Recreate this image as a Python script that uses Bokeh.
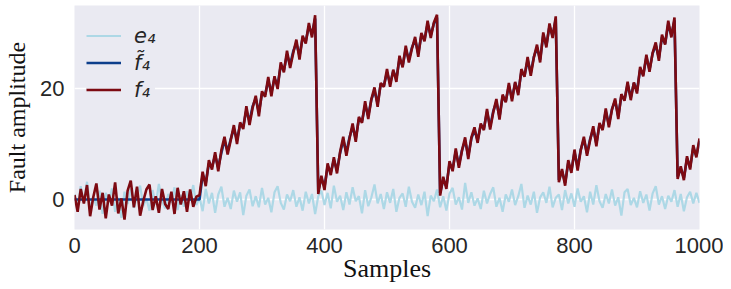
from bokeh.plotting import figure
from bokeh.models import Legend, LegendItem, FixedTicker, Range1d
from bokeh.embed import file_html
from bokeh.resources import INLINE

samples = list(range(0, 1001, 5))

e4 = [
    0.9, -1.4, 2.4, -0.6, 3.2, -1.7, 0.5, -1.1, 1.6, -2.6,
    1.2, -0.4, 2.0, -2.2, 0.3, -3.3, 1.4, -0.8, 1.9, -1.5,
    0.6, 2.5, -1.2, 0.2, -2.0, 1.7, -0.9, 2.8, -0.3, -1.6,
    1.0, -0.6, 2.2, -1.9, 0.8, -1.3, 1.5, -0.2, 2.6, -1.0,
    0.4, -2.1, 1.9, -0.7, 1.2, -2.4, 0.9, 2.3, -1.3, 0.3,
    -1.7, 1.6, -0.4, 1.3, -2.8, 0.7, 1.8, -1.2, 0.6, -1.4,
    2.1, -0.9, 0.3, -2.3, 1.3, 2.4, -0.6, -1.8, 0.9, -0.3,
    1.7, -1.3, 0.4, -2.0, 1.4, -0.7, 1.0, -2.6, 0.6, 1.6,
    -1.0, 1.2, -1.6, 2.5, -0.4, 0.7, -1.9, 1.3, -0.9, 2.2,
    -0.3, 0.6, -2.5, 1.7, -1.2, 0.4, 2.7, -0.7, 1.0, -1.7,
    1.3, -0.6, 1.9, -2.2, 0.3, 1.1, -1.3, 2.3, -0.4, -1.5,
    0.9, -1.0, 1.4, -3.0, 0.7, -0.3, 1.8, -1.4, 0.6, -2.0,
    1.1, 2.1, -0.9, 0.4, -1.8, 3.0, -0.6, 1.3, -1.1, 0.2,
    -1.7, 1.6, -0.7, 1.0, 2.2, -1.3, 0.3, -2.2, 0.9, -0.4,
    1.8, -1.0, 0.6, 2.8, -1.5, 0.7, -0.9, 1.4, -2.4, 0.4,
    1.3, -0.6, 2.3, -1.4, 0.3, 0.9, -1.9, 1.7, -0.7, 1.1,
    -1.3, 2.0, -0.4, 0.6, -2.3, 1.4, -0.9, 2.6, -0.3, -1.5,
    1.0, -0.7, 1.8, -1.1, 0.4, -2.9, 1.3, 1.9, -1.0, 0.3,
    -1.4, 1.5, -0.6, 0.9, -2.0, 1.1, 2.4, -0.9, 0.6, -1.7,
    0.7, -0.4, 1.7, -1.3, 1.0, -2.1, 0.4, 1.4, -0.7, 1.2,
    -0.6,
]

# f4, one list per segment of the sawtooth
f4_flat = [0.8, -2.2, 1.9, -0.7, 2.6, -3.0, 0.4, 2.9, -1.8, 1.2,
           -3.4, 0.9, -1.1, 3.1, -2.5, 0.2, -3.6, 1.6, 3.4, -1.4,
           2.3, -2.9, -0.3, 1.8, 2.7, -1.9, 0.6, -2.4, 1.9, -0.8,
           -1.7, 1.4, -2.6, 2.1, -0.9, 1.5, -2.2, 1.8, -1.3, 0.5]
f4_ramp1 = [0.8, 5.0, 2.4, 7.1, 5.4, 8.5, 5.1, 8.9, 11.3, 8.1,
            10.7, 13.4, 10.0, 13.9, 12.7, 16.8, 13.4, 16.5, 18.7, 15.0,
            19.5, 18.5, 22.1, 18.6, 22.2, 19.9, 24.7, 22.9, 26.8, 23.7,
            26.4, 28.8, 25.2, 29.5, 28.1, 31.8, 29.2, 33.2]
f4_ramp2 = [1.0, 4.3, 1.7, 6.5, 4.4, 7.6, 4.7, 8.6, 11.3, 7.9,
            11.0, 13.7, 10.4, 14.9, 13.8, 17.7, 14.5, 18.1, 20.2, 16.7,
            21.0, 20.3, 23.5, 20.3, 23.4, 21.2, 25.9, 23.8, 27.7, 24.7,
            27.2, 29.3, 25.7, 30.0, 28.5, 32.2, 29.1, 31.9, 33.3]
f4_ramp3 = [0.7, 4.1, 1.9, 6.9, 5.1, 9.2, 5.7, 8.8, 11.2, 7.3,
            11.2, 13.0, 10.2, 13.7, 12.5, 16.3, 12.6, 15.7, 18.1, 14.4,
            18.9, 17.5, 21.0, 17.7, 21.2, 18.8, 23.5, 22.1, 25.7, 22.3,
            25.6, 27.9, 24.7, 30.1, 27.4, 31.7, 29.1, 33.0]
f4_ramp4 = [3.1, 5.5, 2.5, 7.1, 4.8, 9.0, 5.2, 8.9, 11.3, 7.9,
            10.7, 13.2, 9.6, 13.8, 12.5, 16.4, 13.0, 16.2, 18.2, 14.5,
            19.0, 17.8, 21.2, 17.9, 21.1, 19.1, 23.9, 22.2, 26.1, 23.0,
            26.4, 28.3, 25.0, 29.7, 27.9, 32.2, 29.2, 32.8]
f4_ramp5 = [3.7, 6.0, 3.5, 7.8, 5.4, 9.8, 7.6, 11.0]

# estimated fault f~4
ft4_flat = [0.0] * 40
ft4_ramp1 = [0.0, 4.4, 3.0, 6.5, 5.9, 7.9, 5.8, 8.4, 10.6, 8.7,
             10.9, 12.8, 10.7, 13.5, 13.2, 16.1, 14.1, 16.8, 18.2, 15.7,
             19.1, 18.9, 21.4, 19.3, 21.8, 20.6, 24.1, 23.3, 26.1, 24.3,
             26.7, 28.2, 25.9, 29.1, 28.5, 31.2, 29.8, 32.6]
ft4_ramp2 = [1.6, 3.8, 2.3, 6.0, 4.9, 7.1, 5.3, 8.4, 10.7, 8.5,
             11.2, 13.1, 11.0, 14.5, 14.1, 17.0, 15.1, 18.0, 19.6, 17.3,
             20.8, 20.5, 22.9, 20.9, 23.1, 21.8, 25.3, 24.1, 27.1, 25.2,
             27.4, 28.8, 26.3, 29.6, 28.8, 31.6, 29.6, 31.7, 32.8]
ft4_ramp3 = [1.2, 3.6, 2.4, 6.4, 5.5, 8.7, 6.2, 8.9, 10.6, 7.9,
             11.0, 12.5, 10.7, 13.4, 12.8, 15.8, 13.1, 15.9, 17.6, 14.9,
             18.6, 17.7, 20.5, 18.2, 21.0, 19.3, 23.0, 22.3, 25.1, 22.8,
             25.7, 27.4, 25.2, 29.6, 27.8, 31.2, 29.5, 32.5]
ft4_ramp4 = [3.5, 5.1, 3.0, 6.6, 5.2, 8.5, 5.8, 9.0, 10.8, 8.3,
             10.9, 12.7, 10.1, 13.5, 12.8, 15.9, 13.5, 16.3, 17.8, 15.0,
             18.7, 18.0, 20.7, 18.4, 21.0, 19.6, 23.4, 22.5, 25.6, 23.4,
             26.3, 27.8, 25.5, 29.3, 28.1, 31.6, 29.6, 32.3]
ft4_ramp5 = [4.1, 5.6, 3.9, 7.4, 5.8, 9.3, 7.9, 10.6]

f4 = f4_flat + f4_ramp1 + f4_ramp2 + f4_ramp3 + f4_ramp4 + f4_ramp5
ft4 = ft4_flat + ft4_ramp1 + ft4_ramp2 + ft4_ramp3 + ft4_ramp4 + ft4_ramp5

x_ticks = [0, 200, 400, 600, 800, 1000]
y_ticks = [0, 20]

# ---- figure ----
p = figure(frame_width=625, frame_height=224,
           x_range=Range1d(0, 1000), y_range=Range1d(-5.4, 34.95),
           output_backend="svg", toolbar_location=None,
           min_border_left=74, min_border_right=24,
           min_border_top=5, min_border_bottom=56)
p.background_fill_color = "#EAEAF2"
p.border_fill_color = "white"
p.outline_line_color = None
p.grid.grid_line_color = "white"
p.grid.grid_line_width = 1.3

r_e = p.line(samples, e4, line_color="#ADD8E6", line_width=2.2)
r_ft = p.line(samples, ft4, line_color="#0D3F8C", line_width=2.6)
r_f = p.line(samples, f4, line_color="#7D0A12", line_width=2.6)

p.xaxis.ticker = FixedTicker(ticks=x_ticks)
p.yaxis.ticker = FixedTicker(ticks=y_ticks)
for ax in (p.xaxis, p.yaxis):
    ax.axis_line_color = None
    ax.major_tick_line_color = None
    ax.minor_tick_line_color = None
    ax.major_label_text_font = "Liberation Sans"
    ax.major_label_text_font_size = "22px"
    ax.major_label_text_color = "#262626"
    ax.axis_label_text_font = "Liberation Serif"
    ax.axis_label_text_font_style = "normal"
    ax.axis_label_text_color = "#111111"
p.xaxis.axis_label_text_font_size = "26px"
p.yaxis.axis_label_text_font_size = "24px"
p.xaxis.axis_label = "Samples"
p.yaxis.axis_label = "Fault amplitude"
p.xaxis.major_label_standoff = 2
p.yaxis.major_label_standoff = 4
p.xaxis.axis_label_standoff = -2
p.yaxis.axis_label_standoff = 7

legend = Legend(items=[
    LegendItem(label="e\u2084", renderers=[r_e]),
    LegendItem(label="f\u0303\u2084", renderers=[r_ft]),
    LegendItem(label="f\u2084", renderers=[r_f]),
], location=(12, 126))
legend.background_fill_color = "#EAEAF2"
legend.background_fill_alpha = 1.0
legend.border_line_color = None
legend.label_text_font = "DejaVu Sans"
legend.label_text_font_style = "italic"
legend.label_text_font_size = "21px"
legend.label_text_color = "#262626"
legend.glyph_width = 35
legend.glyph_height = 27
legend.label_height = 27
legend.label_standoff = 13
legend.spacing = 0
legend.padding = 8
legend.margin = 0
p.add_layout(legend, "center")

open("out.html", "w").write(file_html(p, INLINE))
